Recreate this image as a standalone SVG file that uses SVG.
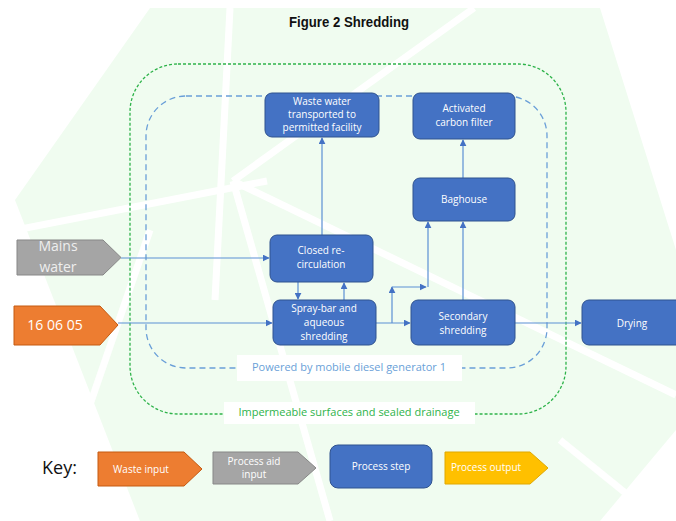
<svg xmlns="http://www.w3.org/2000/svg" width="676" height="521" viewBox="0 0 676 521">
<defs>
<style>
.node{fill:#4472c4;stroke:#2f528f;stroke-width:1}
.nt{fill:#fff;font-family:"Open Sans","Liberation Sans",sans-serif;font-size:10px;text-anchor:middle}
.con{fill:none;stroke:#5b8fd4;stroke-width:1.2}
.bgw{fill:none;stroke:#fff;stroke-width:7}
</style>
<marker id="ah" viewBox="0 0 10 10" refX="9" refY="5" markerWidth="7" markerHeight="7" orient="auto" markerUnits="userSpaceOnUse">
<path d="M0,0 L10,5 L0,10 z" fill="#4472c4"/>
</marker>
</defs>
<rect width="676" height="521" fill="#fff"/>
<g id="background">
<polygon points="150,8 600,8 676,250 676,430 600,521 140,521 15,200" fill="#f0fcf0"/>
<path class="bgw" d="M230,8 L215,300"/>
<path class="bgw" d="M474,8 L233,181"/>
<path class="bgw" d="M0,233 L267,181"/>
<path class="bgw" d="M233,181 L676,395"/>
<path class="bgw" d="M233,181 L330,521"/>
<path class="bgw" d="M150,230 L50,521"/>
<path class="bgw" d="M560,440 L660,521"/>
</g>
<text x="349" y="27" font-family="Liberation Sans,Arial,sans-serif" font-weight="bold" font-size="14" text-anchor="middle" textLength="120" lengthAdjust="spacingAndGlyphs" fill="#111">Figure 2 Shredding</text>
<g id="zone-impermeable">
<rect x="130" y="64" width="436" height="350" rx="48" fill="none" stroke="#2eb34a" stroke-width="1.3" stroke-dasharray="3,2"/>
<rect x="224" y="402" width="251" height="22" fill="#fff"/>
<text x="349" y="416" font-family="'Open Sans','Liberation Sans',sans-serif" font-size="11" fill="#2eb34a" text-anchor="middle">Impermeable surfaces and sealed drainage</text>
</g>
<g id="zone-generator">
<rect x="146" y="96" width="401" height="272" rx="40" fill="none" stroke="#6a9fd8" stroke-width="1.3" stroke-dasharray="6,4"/>
<rect x="237" y="355" width="225" height="26" fill="#fff"/>
<text x="349" y="371" font-family="'Open Sans','Liberation Sans',sans-serif" font-size="11" fill="#6a9fd8" text-anchor="middle">Powered by mobile diesel generator 1</text>
</g>
<g id="connectors">
<path class="con" d="M121,258 L269,258" marker-end="url(#ah)"/>
<path class="con" d="M118,323 L272,323" marker-end="url(#ah)"/>
<path class="con" d="M322,235 L322,138" marker-end="url(#ah)"/>
<path class="con" d="M298,282 L298,299" marker-end="url(#ah)"/>
<path class="con" d="M344,300 L344,283" marker-end="url(#ah)"/>
<path class="con" d="M376,323 L410,323" marker-end="url(#ah)"/>
<path class="con" d="M392,323 L392,287" marker-end="url(#ah)"/>
<path class="con" d="M392,287 L426,287" marker-end="url(#ah)"/>
<path class="con" d="M428,287 L428,222" marker-end="url(#ah)"/>
<path class="con" d="M463,300 L463,222" marker-end="url(#ah)"/>
<path class="con" d="M463,178 L463,140" marker-end="url(#ah)"/>
<path class="con" d="M515,323 L581,323" marker-end="url(#ah)"/>
</g>
<g id="mains-water">
<polygon points="17,240 103,240 121,257.5 103,275 17,275" fill="#a5a5a5" stroke="#878787"/>
<text x="58" y="251" font-family="'Open Sans','Liberation Sans',sans-serif" font-size="14" fill="#eee" text-anchor="middle">Mains</text>
<text x="58" y="272" font-family="'Open Sans','Liberation Sans',sans-serif" font-size="14" fill="#eee" text-anchor="middle">water</text>
</g>
<g id="waste-code">
<polygon points="14,306 100,306 118,325 100,345 14,345" fill="#ed7d31" stroke="#c55a11"/>
<text x="55" y="330" font-family="'Open Sans','Liberation Sans',sans-serif" font-size="14" fill="#fff" text-anchor="middle">16 06 05</text>
</g>
<g id="waste-water">
<rect class="node" x="265" y="93" width="114" height="44" rx="7"/>
<text class="nt" x="322" y="105">Waste water</text>
<text class="nt" x="322" y="118">transported to</text>
<text class="nt" x="322" y="131">permitted facility</text>
</g>
<g id="carbon-filter">
<rect class="node" x="413" y="93" width="102" height="46" rx="7"/>
<text class="nt" x="464" y="112">Activated</text>
<text class="nt" x="464" y="126">carbon filter</text>
</g>
<g id="baghouse">
<rect class="node" x="413" y="178" width="102" height="43" rx="7"/>
<text class="nt" x="464" y="203">Baghouse</text>
</g>
<g id="recirculation">
<rect class="node" x="270" y="235" width="103" height="47" rx="7"/>
<text class="nt" x="321" y="254">Closed re-</text>
<text class="nt" x="321" y="268">circulation</text>
</g>
<g id="spray-bar">
<rect class="node" x="273" y="300" width="103" height="45" rx="7"/>
<text class="nt" x="324" y="312">Spray-bar and</text>
<text class="nt" x="324" y="326">aqueous</text>
<text class="nt" x="324" y="340">shredding</text>
</g>
<g id="secondary-shredding">
<rect class="node" x="411" y="300" width="104" height="45" rx="7"/>
<text class="nt" x="463" y="320">Secondary</text>
<text class="nt" x="463" y="334">shredding</text>
</g>
<g id="drying">
<rect class="node" x="582" y="300" width="110" height="45" rx="7"/>
<text class="nt" x="632" y="327">Drying</text>
</g>
<g id="key">
<text x="42" y="474" font-family="'Open Sans','Liberation Sans',sans-serif" font-size="18" fill="#111">Key:</text>
<polygon points="98,452 184,452 202,469 184,486 98,486" fill="#ed7d31" stroke="#c55a11"/>
<text x="141" y="473" font-family="'Open Sans','Liberation Sans',sans-serif" font-size="10" fill="#fff" text-anchor="middle">Waste input</text>
<polygon points="213,452 298,452 316,468 298,484 213,484" fill="#a5a5a5" stroke="#878787"/>
<text x="254" y="465" font-family="'Open Sans','Liberation Sans',sans-serif" font-size="10" fill="#fff" text-anchor="middle">Process aid</text>
<text x="254" y="478" font-family="'Open Sans','Liberation Sans',sans-serif" font-size="10" fill="#fff" text-anchor="middle">input</text>
<rect class="node" x="330" y="445" width="102" height="43" rx="8"/>
<text class="nt" x="381" y="470">Process step</text>
<polygon points="445,452 530,452 548,468 530,484 445,484" fill="#ffc000" stroke="#e0a800"/>
<text x="486" y="471" font-family="'Open Sans','Liberation Sans',sans-serif" font-size="10" fill="#fff" text-anchor="middle">Process output</text>
</g>
</svg>
